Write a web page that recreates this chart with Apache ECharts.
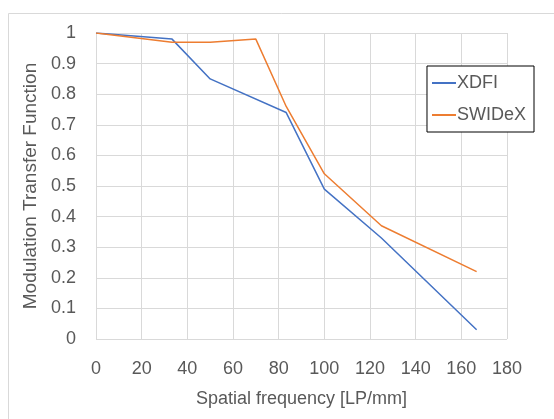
<!DOCTYPE html>
<html><head><meta charset="utf-8">
<script src="https://cdn.jsdelivr.net/npm/echarts@6/dist/echarts.min.js"></script>
<style>html,body{margin:0;padding:0;background:#fff}#c{width:554px;height:419px}</style>
</head><body><div id="c"></div>
<script>
const xdfiX = [0, 33.3, 50, 83.3, 100, 125, 166.7];
const xdfiY = [1.0, 0.98, 0.85, 0.74, 0.49, 0.33, 0.03];
const swidexX = [0, 33.3, 50, 70, 83.3, 100, 125, 166.7];
const swidexY = [1.0, 0.97, 0.97, 0.98, 0.76, 0.54, 0.37, 0.22];
const seriesNames = ['XDFI', 'SWIDeX'];
const xTitle = 'Spatial frequency [LP/mm]';
const yTitle = 'Modulation Transfer Function';

const font = 'Liberation Sans';
const txt = '#595959';
const chart = echarts.init(document.getElementById('c'), null, {renderer: 'canvas'});
chart.setOption({
  animation: false,
  backgroundColor: '#fff',
  graphic: [{type: 'rect', shape: {x: 8.5, y: 13.5, width: 600, height: 500}, style: {fill: 'none', stroke: '#d9d9d9', lineWidth: 1}, z: -1}],
  grid: {left: 96, right: 47, top: 33, bottom: 80, containLabel: false},
  legend: {
    data: seriesNames, orient: 'vertical', right: 20, top: 66,
    borderColor: '#000', borderWidth: 1, padding: [8, 8, 8, 5], itemGap: 14,
    backgroundColor: '#fff',
    itemWidth: 24, itemHeight: 2, icon: 'rect',
    textStyle: {fontFamily: font, fontSize: 18, color: txt, padding: [0, 0, 0, -4]}
  },
  xAxis: {
    type: 'value', min: 0, max: 180, interval: 20,
    name: xTitle, nameLocation: 'middle', nameGap: 51,
    nameTextStyle: {fontFamily: font, fontSize: 18, color: txt},
    axisLine: {show: false}, axisTick: {show: false},
    axisLabel: {fontFamily: font, fontSize: 18, color: txt, margin: 21},
    splitLine: {show: true, lineStyle: {color: '#d9d9d9', width: 1}}
  },
  yAxis: {
    type: 'value', min: 0, max: 1, interval: 0.1,
    name: yTitle, nameLocation: 'middle', nameGap: 48,
    nameTextStyle: {fontFamily: font, fontSize: 19, color: txt},
    axisLine: {show: false}, axisTick: {show: false},
    axisLabel: {fontFamily: font, fontSize: 18, color: txt, margin: 20,
      formatter: v => String(Math.round(v * 10) / 10)},
    splitLine: {show: true, lineStyle: {color: '#d9d9d9', width: 1}}
  },
  series: [
    {name: seriesNames[0], type: 'line', data: xdfiX.map((x, i) => [x, xdfiY[i]]),
     symbol: 'none', lineStyle: {color: '#4472C4', width: 1.5}, itemStyle: {color: '#4472C4'}},
    {name: seriesNames[1], type: 'line', data: swidexX.map((x, i) => [x, swidexY[i]]),
     symbol: 'none', lineStyle: {color: '#ED7D31', width: 1.5}, itemStyle: {color: '#ED7D31'}}
  ]
});
</script></body></html>
